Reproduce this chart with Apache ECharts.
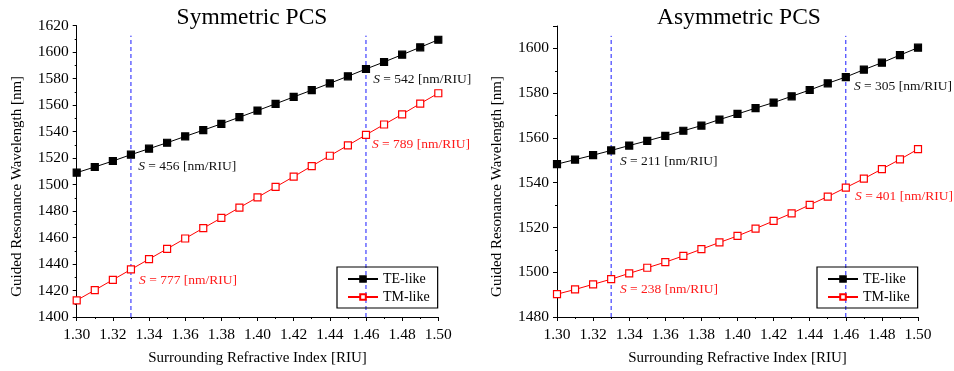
<!DOCTYPE html>
<html><head><meta charset="utf-8">
<script src="https://cdn.jsdelivr.net/npm/echarts@6/dist/echarts.min.js"></script>
<style>html,body{margin:0;padding:0;background:#fff}#c{width:954px;height:371px}</style>
</head><body><div id="c"></div>
<script>
const riu = [1.30,1.31,1.32,1.33,1.34,1.35,1.36,1.37,1.38,1.39,1.40,1.41,1.42,1.43,1.44,1.45,1.46,1.47,1.48,1.49,1.50];
const symTE = [1509.0,1513.3,1517.8,1522.6,1527.1,1531.6,1536.4,1541.1,1545.9,1550.9,1555.9,1561.0,1566.2,1571.3,1576.5,1581.8,1587.3,1592.6,1598.1,1603.7,1609.4];
const symTM = [1412.6,1420.3,1428.1,1435.9,1443.7,1451.5,1459.3,1467.1,1474.8,1482.6,1490.4,1498.2,1506.0,1514.0,1521.8,1529.6,1537.6,1545.4,1553.1,1561.2,1569.0];
const asymTE = [1548.3,1550.3,1552.3,1554.4,1556.6,1558.7,1560.9,1563.2,1565.5,1568.2,1570.7,1573.3,1575.8,1578.6,1581.4,1584.4,1587.2,1590.5,1593.6,1597.0,1600.3];
const asymTM = [1490.2,1492.3,1494.6,1496.9,1499.5,1502.0,1504.5,1507.3,1510.3,1513.3,1516.2,1519.5,1522.9,1526.3,1530.1,1533.8,1537.8,1541.8,1546.1,1550.4,1555.0];
const refX = [1.33, 1.46];
const symRefTop = 1612.5, asymRefTop = 1605.6;
const titles = ['Symmetric PCS', 'Asymmetric PCS'];
const xName = 'Surrounding Refractive Index [RIU]';
const yName = 'Guided Resonance Wavelength [nm]';
const symNotes = [
  {x:1.334, y:1513.6, s:'456', c:'#111'},
  {x:1.464, y:1579.1, s:'542', c:'#111'},
  {x:1.4633, y:1530.1, s:'789', c:'#ff1a1a'},
  {x:1.3345, y:1427.7, s:'777', c:'#ff1a1a'}
];
const asymNotes = [
  {x:1.3349, y:1549.4, s:'211', c:'#111'},
  {x:1.4645, y:1582.8, s:'305', c:'#111'},
  {x:1.4651, y:1533.8, s:'401', c:'#ff1a1a'},
  {x:1.3349, y:1492.3, s:'238', c:'#ff1a1a'}
];

const FONT = '"Liberation Serif", "Times New Roman", serif';
const zip = (xs, ys) => xs.map((x,i)=>[x, ys[i]]);

function xAxis(gi){
  return {type:'value', gridIndex:gi, min:1.30, max:1.50, interval:0.02,
    name:xName, nameLocation:'middle', nameGap:34,
    nameTextStyle:{fontFamily:FONT, fontSize:15, color:'#000'},
    axisLine:{lineStyle:{color:'#000', width:1}},
    axisTick:{show:true, length:4, lineStyle:{color:'#000'}},
    minorTick:{show:true, splitNumber:2, length:2, lineStyle:{color:'#000'}},
    splitLine:{show:false},
    axisLabel:{fontFamily:FONT, fontSize:15.5, color:'#000', margin:10, formatter:v=>v.toFixed(2)}};
}
function yAxis(gi, min, max, gap){
  return {type:'value', gridIndex:gi, min:min, max:max, interval:20,
    name:yName, nameLocation:'middle', nameGap:gap,
    nameTextStyle:{fontFamily:FONT, fontSize:15, color:'#000', padding:[0,30,0,0]},
    axisLine:{show:true, lineStyle:{color:'#000', width:1}},
    axisTick:{show:true, length:4, lineStyle:{color:'#000'}},
    minorTick:{show:true, splitNumber:2, length:2, lineStyle:{color:'#000'}},
    splitLine:{show:false},
    axisLabel:{fontFamily:FONT, fontSize:15.5, color:'#000', margin:8, showMaxLabel: max % 20 === 0,
      formatter:v=>String(Math.round(v))}};
}
function dataSeries(name, xi, data, filled){
  return {name:name, type:'line', xAxisIndex:xi, yAxisIndex:xi, data:data,
    symbol:'rect', symbolSize:7, showAllSymbol:true,
    lineStyle:{color: filled ? '#000' : '#ff0000', width:1},
    itemStyle:{color: filled ? '#000' : '#fff', borderColor: filled ? '#000' : '#ff0000', borderWidth:1.2},
    emphasis:{disabled:true}, z:3, animation:false};
}
function refSeries(xi, x, ymin, ytop){
  return {type:'line', xAxisIndex:xi, yAxisIndex:xi, data:[[x,ymin],[x,ytop]], symbol:'none',
    lineStyle:{color:'#1a1aff', width:1, type:[4,3]}, silent:true, z:2, animation:false};
}
function noteSeries(xi, notes){
  return {type:'scatter', xAxisIndex:xi, yAxisIndex:xi, symbolSize:0, silent:true, animation:false, z:4,
    itemStyle:{opacity:1},
    data: notes.map(n=>({value:[n.x,n.y], label:{show:true, position:'right', distance:0,
      formatter:'{i|S} = '+n.s+' [nm/RIU]',
      color:n.c, fontFamily:FONT, fontSize:13.5,
      rich:{i:{fontStyle:'italic', fontFamily:FONT, fontSize:13.5, color:n.c}}}}))};
}

const chart = echarts.init(document.getElementById('c'), null, {renderer:'canvas'});
const legendBase = {orient:'vertical', itemWidth:30, itemHeight:7, itemGap:4, borderColor:'#000', borderWidth:1.2,
  padding:[5,8,4,10], textStyle:{fontFamily:FONT, fontSize:14, color:'#000'}, data:['TE-like','TM-like'], selectedMode:false};
chart.setOption({
  animation:false,
  backgroundColor:'#fff',
  title:[
    {text:titles[0], left:247, top:1, textAlign:'center', textStyle:{fontFamily:FONT, fontSize:23.5, fontWeight:'normal', color:'#000'}},
    {text:titles[1], left:734, top:1, textAlign:'center', textStyle:{fontFamily:FONT, fontSize:23.5, fontWeight:'normal', color:'#000'}}
  ],
  legend:[
    Object.assign({}, legendBase, {left:337, top:267, width:100}),
    Object.assign({}, legendBase, {left:817, top:267, width:100})
  ],
  grid:[
    {left:76.7, top:25.7, width:361.6, height:292},
    {left:557, top:26, width:361, height:291.7}
  ],
  xAxis:[xAxis(0), xAxis(1)],
  yAxis:[yAxis(0,1400,1620,52), yAxis(1,1480,1610,52)],
  series:[
    refSeries(0, refX[0], 1400, symRefTop),
    refSeries(0, refX[1], 1400, symRefTop),
    refSeries(1, refX[0], 1480, asymRefTop),
    refSeries(1, refX[1], 1480, asymRefTop),
    dataSeries('TE-like', 0, zip(riu, symTE), true),
    dataSeries('TM-like', 0, zip(riu, symTM), false),
    dataSeries('TE-like', 1, zip(riu, asymTE), true),
    dataSeries('TM-like', 1, zip(riu, asymTM), false),
    noteSeries(0, symNotes),
    noteSeries(1, asymNotes)
  ]
});
</script></body></html>
